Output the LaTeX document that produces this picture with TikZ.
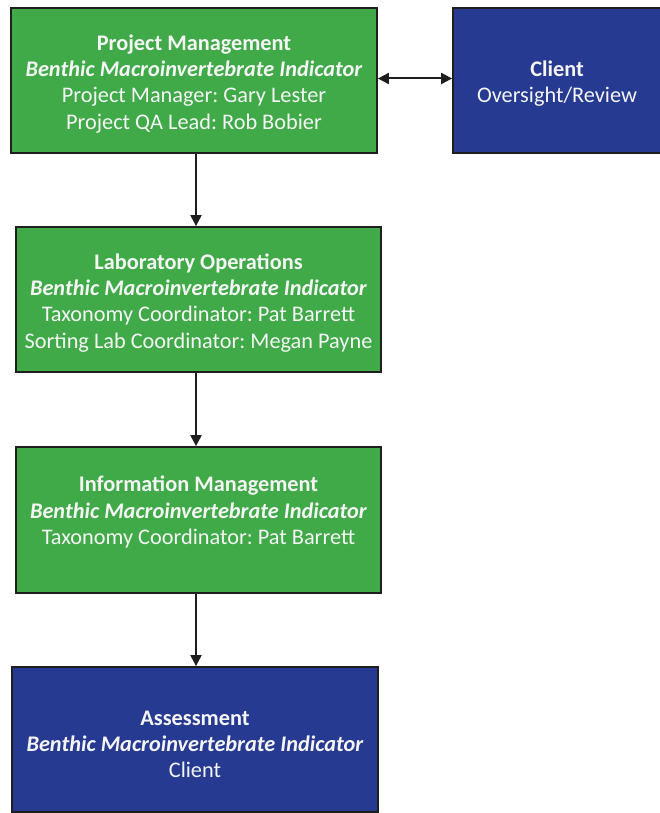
\documentclass[tikz,border=0pt]{standalone}
\usepackage{fontspec}
\setmainfont{Carlito}
\frenchspacing
\usetikzlibrary{arrows.meta}
\definecolor{boxgreen}{RGB}{64,170,72}
\definecolor{boxblue}{RGB}{38,58,145}
\definecolor{edge}{RGB}{30,30,30}
\definecolor{txt}{RGB}{245,245,245}
\newcommand{\topstrut}{\rule{0pt}{22.5pt}}
\tikzset{
  box/.style={draw=edge, line width=1.8pt, text=txt, align=center,
    inner sep=0pt, font=\fontsize{22.3}{26.3}\selectfont},
  gbox/.style={box, fill=boxgreen},
  bbox/.style={box, fill=boxblue},
  arr/.style={draw=edge, line width=2pt, -{Triangle[length=11pt,width=11pt]}},
  darr/.style={draw=edge, line width=2pt, {Triangle[length=11pt,width=11pt]}-{Triangle[length=11pt,width=11pt]}}
}
\begin{document}
\begin{tikzpicture}[x=1pt,y=-1pt]
\clip (0,0) rectangle (660,813);
\fill[white] (0,0) rectangle (660,813);
\node[gbox, minimum width=366pt, minimum height=145pt] (pm) at (194,80.5)
  {\topstrut\textbf{Project Management}\\ \textbf{\textit{Benthic Macroinvertebrate Indicator}}\\ Project Manager: Gary Lester\\ Project QA Lead: Rob Bobier};
\node[bbox, minimum width=208pt, minimum height=145pt] (client) at (557,80.5)
  {\topstrut\textbf{Client}\\ Oversight/Review};
\node[gbox, minimum width=365pt, minimum height=145pt] (lab) at (198.5,299.5)
  {\topstrut\textbf{Laboratory Operations}\\ \textbf{\textit{Benthic Macroinvertebrate Indicator}}\\ Taxonomy Coordinator: Pat Barrett\\ Sorting Lab Coordinator: Megan Payne};
\node[gbox, minimum width=365pt, minimum height=146pt] (info) at (198.5,520)
  {\topstrut\textbf{Information Management}\\ \textbf{\textit{Benthic Macroinvertebrate Indicator}}\\ Taxonomy Coordinator: Pat Barrett\\ \mbox{}};
\node[bbox, minimum width=366pt, minimum height=145pt] (assess) at (195,739.5)
  {\rule{0pt}{24pt}\textbf{Assessment}\\ \textbf{\textit{Benthic Macroinvertebrate Indicator}}\\ Client};
\draw[darr] ([yshift=2pt]pm.east) -- ([yshift=2pt]client.west);
\draw[arr] ([xshift=2pt]pm.south) -- ([xshift=2pt]pm.south |- lab.north);
\draw[arr] ([xshift=2pt]pm.south |- lab.south) -- ([xshift=2pt]pm.south |- info.north);
\draw[arr] ([xshift=2pt]pm.south |- info.south) -- ([xshift=2pt]pm.south |- assess.north);
\end{tikzpicture}
\end{document}
